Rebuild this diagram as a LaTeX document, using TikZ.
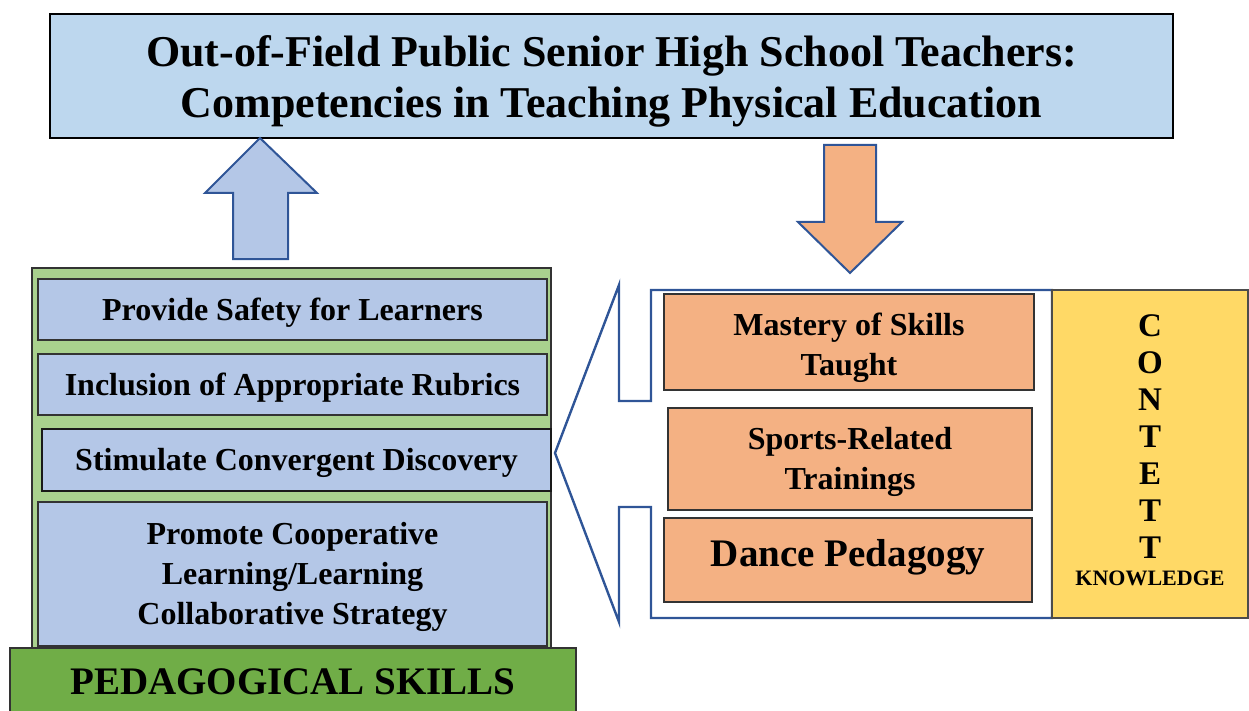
\documentclass[tikz,border=0pt]{standalone}
\usepackage{fontspec}
\setmainfont{Liberation Serif}
\usepackage{xcolor}
\definecolor{TitleColor}{HTML}{BDD7EE}
\definecolor{PedColor}{HTML}{B4C7E7}
\definecolor{PedFrame}{HTML}{A9D18E}
\definecolor{PedBase}{HTML}{70AD47}
\definecolor{ContColor}{HTML}{F4B183}
\definecolor{KnowColor}{HTML}{FFD966}
\definecolor{LineColor}{HTML}{2F5597}
\tikzset{
  pedbox/.style={draw=black!80, line width=1.2pt, fill=PedColor, minimum width=509pt},
  contbox/.style={draw=black!80, line width=1.2pt, fill=ContColor},
  boxtext/.style={align=center, font=\fontsize{32}{40}\selectfont\bfseries},
  blockarrow/.style={draw=LineColor, line width=2pt, line join=miter}
}
\begin{document}
\begin{tikzpicture}[x=1pt, y=-1pt]
  \useasboundingbox (0,0) rectangle (1249,711);
  \node[draw=black, line width=2pt, fill=TitleColor, minimum width=1123pt, minimum height=124pt] (title) at (611.5,76) {};
  \node[align=center, font=\fontsize{44}{51}\selectfont\bfseries] (titletext) at ([yshift=-5pt]title.center)
    {Out-of-Field Public Senior High School Teachers:\\Competencies in Teaching Physical Education};
  \draw[blockarrow, fill=PedColor] (260,138) -- (317,193) -- (288,193) -- (288,259) -- (233,259) -- (233,193) -- (205,193) -- cycle;
  \draw[blockarrow, fill=ContColor] (824,145) -- (876,145) -- (876,222) -- (902,222) -- (850,273) -- (798,222) -- (824,222) -- cycle;
  \node[draw=black!80, line width=1.2pt, fill=PedFrame, minimum width=519pt, minimum height=380pt] (frame) at (291.5,458) {};
  \node[pedbox, minimum height=61pt] (safety) at (292.5,309.5) {};
  \node[boxtext] (safetytext) at ([yshift=-3pt]safety.center) {Provide Safety for Learners};
  \node[pedbox, minimum height=61pt] (rubrics) at (292.5,384.5) {};
  \node[boxtext] (rubricstext) at ([yshift=-3pt]rubrics.center) {Inclusion of Appropriate Rubrics};
  \node[pedbox, minimum height=62pt, draw=black!90, line width=1.6pt] (discovery) at (296.5,460) {};
  \node[boxtext] (discoverytext) at ([yshift=-3pt]discovery.center) {Stimulate Convergent Discovery};
  \node[pedbox, minimum height=144pt] (cooperative) at (292.5,574) {};
  \node[boxtext] (cooperativetext) at ([yshift=-3pt]cooperative.center)
    {Promote Cooperative\\Learning/Learning\\Collaborative Strategy};
  \node[draw=black!80, line width=1.2pt, fill=PedBase, minimum width=566pt, minimum height=64pt] (pedskills) at (293,680) {};
  \node[font=\fontsize{39}{40}\selectfont\bfseries] (pedskillstext) at ([yshift=-2pt]pedskills.center) {PEDAGOGICAL SKILLS};
  \draw[LineColor, line width=2.4pt, line join=miter] (651,290) -- (1052,290) -- (1052,618) -- (651,618) -- (651,507)
    -- (619,507) -- (619,622) -- (555,453) -- (619,285) -- (619,401) -- (651,401) -- cycle;
  \node[contbox, minimum width=370pt, minimum height=96pt] (mastery) at (849,342) {};
  \node[boxtext] (masterytext) at ([yshift=-6pt]mastery.center) {Mastery of Skills\\Taught};
  \node[contbox, minimum width=364pt, minimum height=102pt] (sports) at (850,459) {};
  \node[boxtext] (sportstext) at ([yshift=-3pt]sports.center) {Sports-Related\\Trainings};
  \node[contbox, minimum width=368pt, minimum height=84pt] (dance) at (848,560) {};
  \node[font=\fontsize{39}{40}\selectfont\bfseries] (dancetext) at ([yshift=3pt]dance.center) {Dance Pedagogy};
  \node[draw=black!70, line width=1.2pt, fill=KnowColor, minimum width=196pt, minimum height=328pt] (content) at (1150,454) {};
  \node[align=center, font=\fontsize{33}{37}\selectfont\bfseries] (letters) at (1150,437) {C\\O\\N\\T\\E\\T\\T};
  \node[font=\fontsize{22}{24}\selectfont\bfseries] (knowledge) at (1150,578) {KNOWLEDGE};
\end{tikzpicture}
\end{document}
